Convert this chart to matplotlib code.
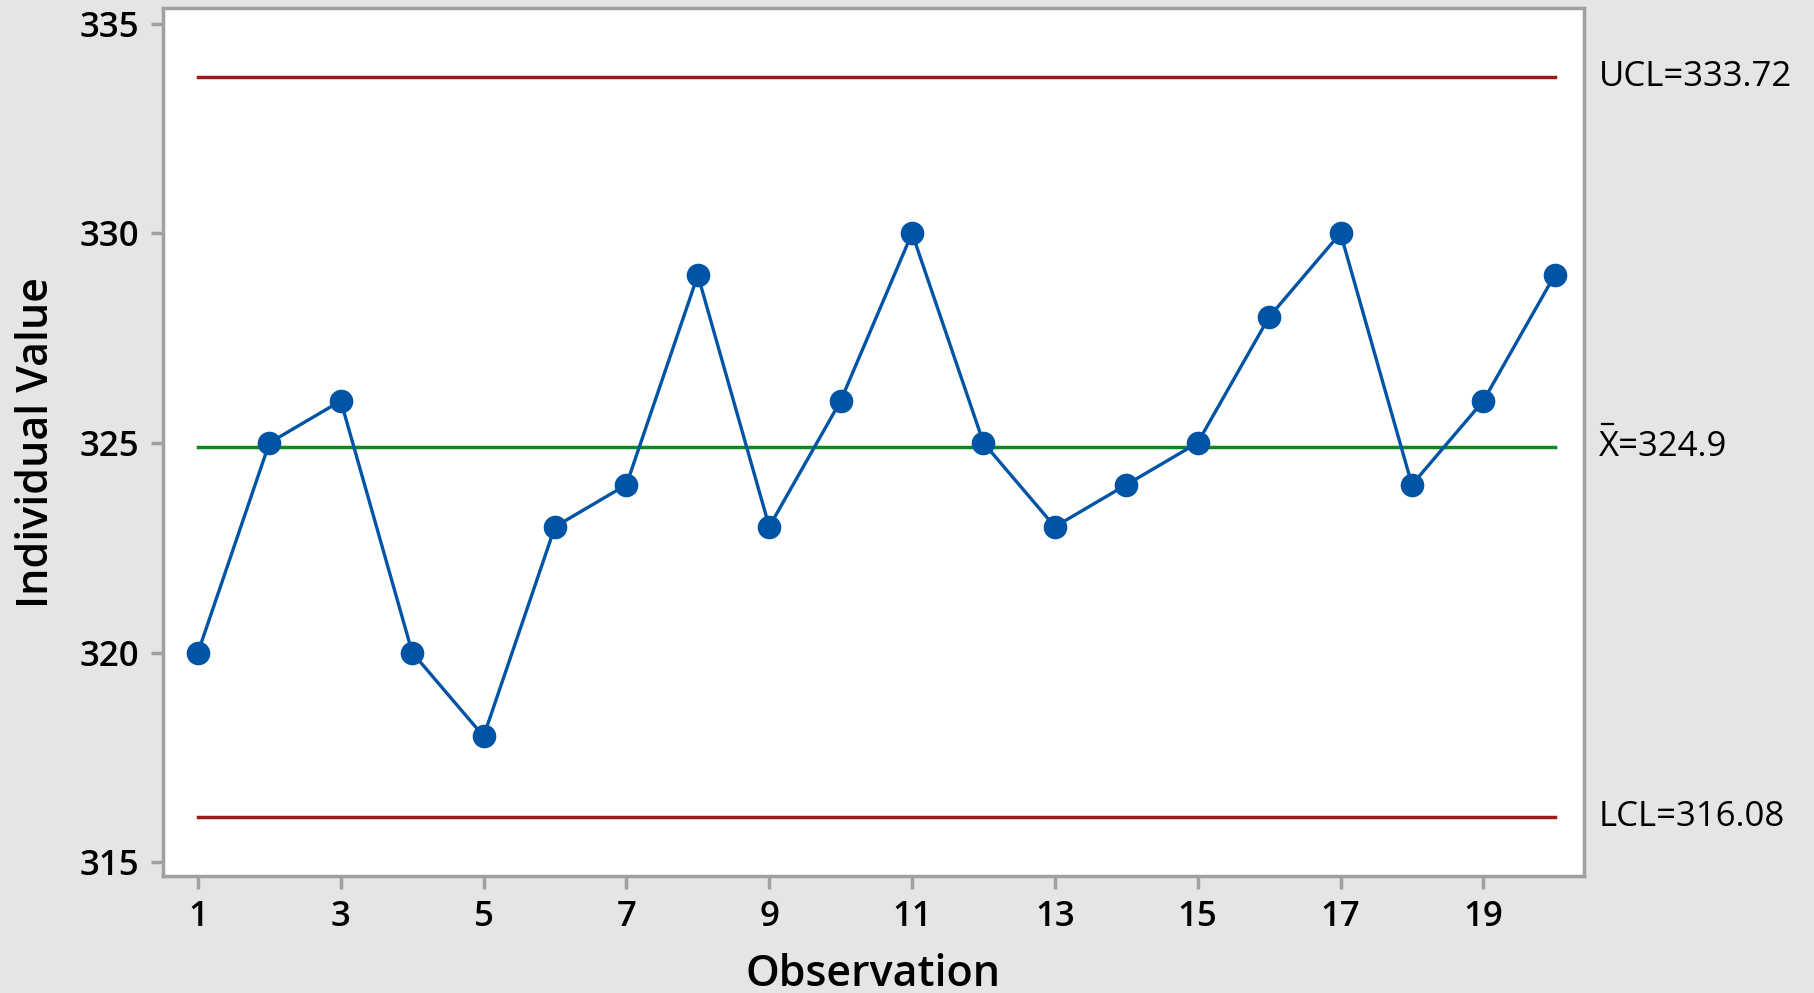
import matplotlib
matplotlib.use("Agg")
import matplotlib.pyplot as plt
from matplotlib.lines import Line2D

observations = list(range(1, 21))
values = [320, 325, 326, 320, 318, 323, 324, 329, 323, 326,
          330, 325, 323, 324, 325, 328, 330, 324, 326, 329]
ucl = 333.72
center = 324.9
lcl = 316.08
x_ticks = [1, 3, 5, 7, 9, 11, 13, 15, 17, 19]
y_ticks = [315, 320, 325, 330, 335]

plt.rcParams['font.family'] = ['Open Sans', 'DejaVu Sans']

fig = plt.figure(figsize=(18.14, 9.93), dpi=100, facecolor='#e5e5e5')
ax = fig.add_axes([163/1814, 1-876/993, (1584-163)/1814, (876-8)/993])
ax.set_facecolor('white')

blue = '#0054a6'
ax.plot(observations, values, color=blue, lw=2.4, marker='o', ms=16,
        mfc=blue, mec=blue, zorder=3)
x0, x1 = observations[0], observations[-1]
ax.plot([x0, x1], [ucl, ucl], color='#9e1b1b', lw=2.5, zorder=2)
ax.plot([x0, x1], [lcl, lcl], color='#9e1b1b', lw=2.5, zorder=2)
ax.plot([x0, x1], [center, center], color='#0a8a1e', lw=2.5, zorder=2)

ax.set_xlim(0.51, 20.41)
ax.set_ylim(314.67, 335.37)
ax.set_xticks(x_ticks)
ax.set_yticks(y_ticks)
ax.tick_params(axis='both', colors='#a0a0a0', width=2.5, length=9,
               labelcolor='black', labelsize=25, pad=8)
for lbl in ax.get_xticklabels() + ax.get_yticklabels():
    lbl.set_fontweight('semibold')
for s in ax.spines.values():
    s.set_color('#a0a0a0')
    s.set_linewidth(2.5)

ax.set_xlabel('Observation', fontsize=31, fontweight='semibold', labelpad=14)
ax.set_ylabel('Individual Value', fontsize=31, fontweight='semibold', labelpad=16)

tx = 1599/1814
H = fig.get_figheight() * fig.dpi
W = fig.get_figwidth() * fig.dpi
def lab(y, s):
    yy = ax.transData.transform((0, y))[1]
    return fig.text(tx, yy/H, s, fontsize=25, va='center', ha='left', color='black')

lab(ucl, f'UCL={ucl:.2f}')
t = lab(center, f'X={center:.1f}')
lab(lcl, f'LCL={lcl:.2f}')

# overline over the X
renderer = fig.canvas.get_renderer()
tmp = fig.text(tx, t.get_position()[1], 'X', fontsize=25, va='center', ha='left')
bb = tmp.get_window_extent(renderer)
tmp.remove()
ytop = bb.y1 + 6
fig.add_artist(Line2D([(bb.x0 + 3)/W, (bb.x0 + 0.55*bb.width + 3)/W], [ytop/H, ytop/H],
                      color='black', lw=1.6, transform=fig.transFigure))

fig.savefig('out.png', dpi=100, facecolor=fig.get_facecolor())
